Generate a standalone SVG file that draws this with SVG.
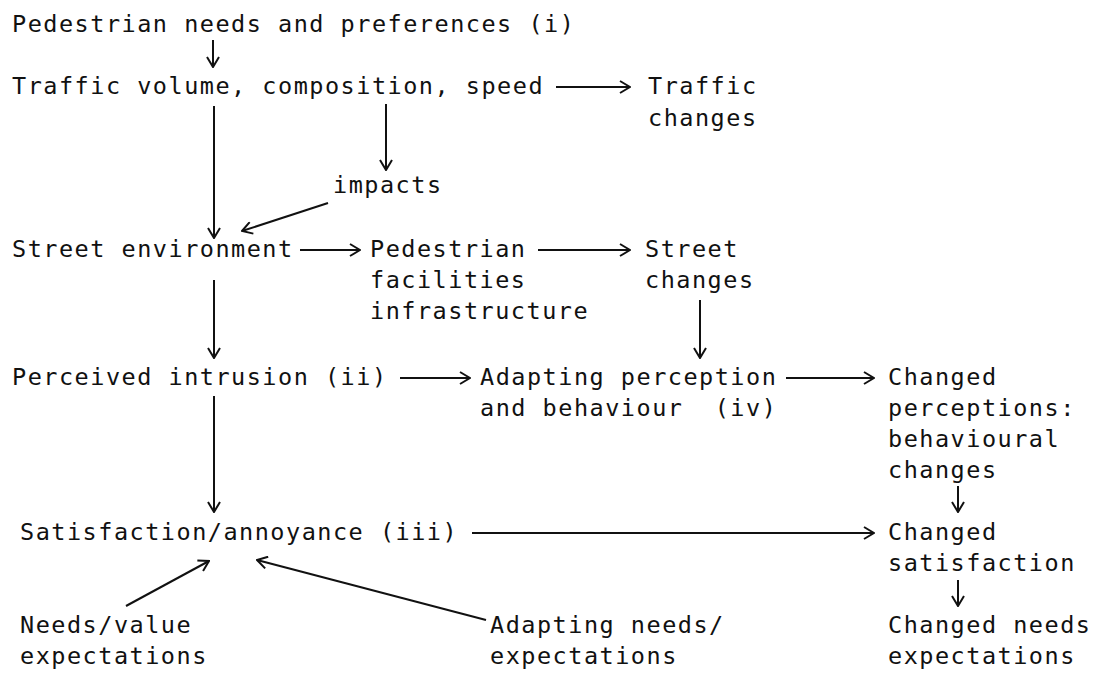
<svg xmlns="http://www.w3.org/2000/svg" width="1117" height="679" viewBox="0 0 1117 679">
<style>
text{font-family:"DejaVu Sans Mono","Liberation Mono",monospace;font-size:23.5px;letter-spacing:1.5px;fill:#111;white-space:pre}
.c line{stroke:#111;stroke-width:2;fill:none;marker-end:url(#ah)}
</style>
<defs>
<marker id="ah" viewBox="0 0 12 14" refX="11" refY="7" markerWidth="12" markerHeight="14" markerUnits="userSpaceOnUse" orient="auto">
<path d="M1,1 L11,7 L1,13" fill="none" stroke="#111" stroke-width="2"/>
</marker>
</defs>
<rect width="1117" height="679" fill="#fff"/>
<g id="n-pedneeds"><text x="12" y="32">Pedestrian needs and preferences (i)</text></g>
<g id="n-traffic"><text x="12" y="94">Traffic volume, composition, speed</text></g>
<g id="n-trafficchanges"><text x="648" y="94">Traffic</text><text x="648" y="126">changes</text></g>
<g id="n-impacts"><text x="333" y="193">impacts</text></g>
<g id="n-street"><text x="12" y="257">Street environment</text></g>
<g id="n-pedfac"><text x="370" y="257">Pedestrian</text><text x="370" y="288">facilities</text><text x="370" y="319">infrastructure</text></g>
<g id="n-streetchanges"><text x="645" y="257">Street</text><text x="645" y="288">changes</text></g>
<g id="n-perceived"><text x="12" y="385">Perceived intrusion (ii)</text></g>
<g id="n-adapting"><text x="480" y="385">Adapting perception</text><text x="480" y="416">and behaviour  (iv)</text></g>
<g id="n-changedperc"><text x="888" y="385">Changed</text><text x="888" y="416">perceptions:</text><text x="888" y="447">behavioural</text><text x="888" y="478">changes</text></g>
<g id="n-satisfaction"><text x="20" y="540">Satisfaction/annoyance (iii)</text></g>
<g id="n-changedsat"><text x="888" y="540">Changed</text><text x="888" y="571">satisfaction</text></g>
<g id="n-needsvalue"><text x="20" y="633">Needs/value</text><text x="20" y="664">expectations</text></g>
<g id="n-adaptneeds"><text x="490" y="633">Adapting needs/</text><text x="490" y="664">expectations</text></g>
<g id="n-changedneeds"><text x="888" y="633">Changed needs</text><text x="888" y="664">expectations</text></g>
<g id="connectors" class="c">
<line x1="213" y1="40" x2="213" y2="67"/>
<line x1="556" y1="87" x2="630" y2="87"/>
<line x1="386" y1="104" x2="386" y2="170"/>
<line x1="214" y1="106" x2="214" y2="238"/>
<line x1="328" y1="203" x2="242" y2="231"/>
<line x1="300" y1="250" x2="360" y2="250"/>
<line x1="538" y1="250" x2="630" y2="250"/>
<line x1="700" y1="300" x2="700" y2="358"/>
<line x1="214" y1="280" x2="214" y2="358"/>
<line x1="400" y1="378" x2="470" y2="378"/>
<line x1="786" y1="378" x2="874" y2="378"/>
<line x1="214" y1="396" x2="214" y2="512"/>
<line x1="958" y1="486" x2="958" y2="512"/>
<line x1="472" y1="533" x2="874" y2="533"/>
<line x1="958" y1="580" x2="958" y2="606"/>
<line x1="126" y1="606" x2="209" y2="561"/>
<line x1="486" y1="620" x2="257" y2="560"/>
</g>
</svg>
